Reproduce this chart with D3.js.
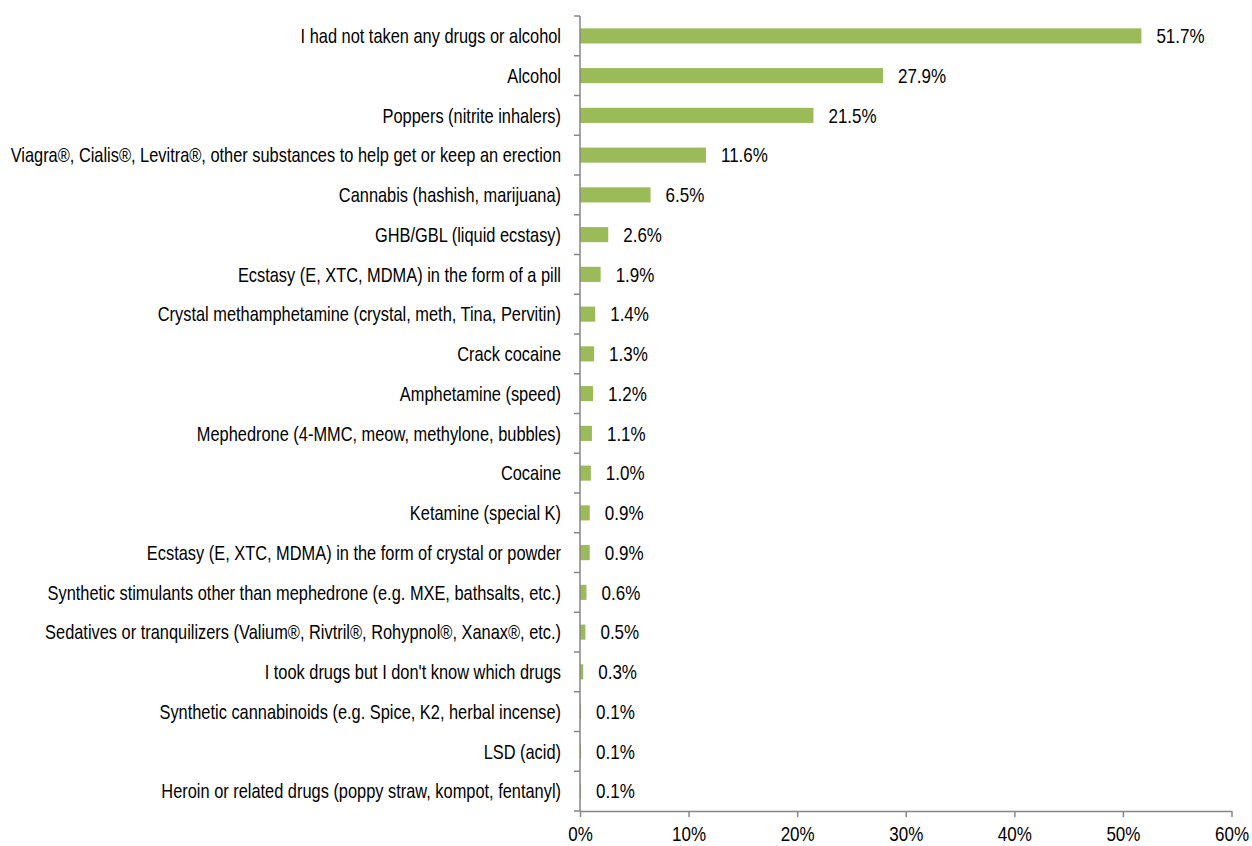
<!DOCTYPE html>
<html>
<head>
<meta charset="utf-8">
<script src="https://cdn.jsdelivr.net/npm/d3@7/dist/d3.min.js"></script>
<style>
  html, body { margin: 0; padding: 0; background: #fff; }
  svg { display: block; font-family: "Liberation Sans", Arial, sans-serif; }
</style>
</head>
<body>
<svg id="chart" width="1252" height="846"></svg>
<script>
// Substances used, share of respondents (%)
const categories = [
  "I had not taken any drugs or alcohol",
  "Alcohol",
  "Poppers (nitrite inhalers)",
  "Viagra®, Cialis®, Levitra®, other substances to help get or keep an erection",
  "Cannabis (hashish, marijuana)",
  "GHB/GBL (liquid ecstasy)",
  "Ecstasy (E, XTC, MDMA) in the form of a pill",
  "Crystal methamphetamine (crystal, meth, Tina, Pervitin)",
  "Crack cocaine",
  "Amphetamine (speed)",
  "Mephedrone (4-MMC, meow, methylone, bubbles)",
  "Cocaine",
  "Ketamine (special K)",
  "Ecstasy (E, XTC, MDMA) in the form of crystal or powder",
  "Synthetic stimulants other than mephedrone (e.g. MXE, bathsalts, etc.)",
  "Sedatives or tranquilizers (Valium®, Rivtril®, Rohypnol®, Xanax®, etc.)",
  "I took drugs but I don't know which drugs",
  "Synthetic cannabinoids (e.g. Spice, K2, herbal incense)",
  "LSD (acid)",
  "Heroin or related drugs (poppy straw, kompot, fentanyl)"
];
const values = [51.7, 27.9, 21.5, 11.6, 6.5, 2.6, 1.9, 1.4, 1.3, 1.2, 1.1, 1.0, 0.9, 0.9, 0.6, 0.5, 0.3, 0.1, 0.1, 0.1];
const xTicks = [0, 10, 20, 30, 40, 50, 60];

const svg = d3.select("#chart");
const fontSize = 20;
const squeeze = 0.82;     // condensed look for labels
const squeezeNum = 0.85;  // numeric labels

const x = d3.scaleLinear().domain([0, 60]).range([580, 1231.5]);
const y = d3.scaleBand().domain(categories).range([16, 811]).paddingInner(0.62).paddingOuter(0.31);

const axisColor = "#868686";

// Bars
svg.append("g").selectAll("rect")
  .data(values)
  .join("rect")
  .attr("x", x(0))
  .attr("y", (d, i) => y(categories[i]))
  .attr("width", d => x(d) - x(0))
  .attr("height", y.bandwidth())
  .attr("fill", "#9bbb59");

// Value labels
svg.append("g").selectAll("text")
  .data(values)
  .join("text")
  .attr("transform", (d, i) => `translate(${x(d) + 15},${y(categories[i]) + y.bandwidth() / 2}) scale(${squeezeNum},1)`)
  .attr("dy", "0.36em")
  .attr("font-size", fontSize)
  .attr("fill", "#000")
  .text(d => d.toFixed(1) + "%");

// Category axis (ticks sit between categories)
const yAxisG = svg.append("g");
yAxisG.append("line")
  .attr("x1", x(0)).attr("x2", x(0))
  .attr("y1", y.range()[0]).attr("y2", y.range()[1])
  .attr("stroke", axisColor).attr("stroke-width", 1.5);
const boundaries = d3.range(categories.length + 1).map(i => y.range()[0] + i * y.step());
yAxisG.selectAll("line.tick")
  .data(boundaries)
  .join("line")
  .attr("class", "tick")
  .attr("x1", x(0) - 6).attr("x2", x(0))
  .attr("y1", d => d).attr("y2", d => d)
  .attr("stroke", axisColor).attr("stroke-width", 1.5);
yAxisG.selectAll("text")
  .data(categories)
  .join("text")
  .attr("transform", d => `translate(${x(0) - 19},${y(d) + y.bandwidth() / 2}) scale(${squeeze},1)`)
  .attr("dy", "0.36em")
  .attr("text-anchor", "end")
  .attr("font-size", fontSize)
  .attr("fill", "#000")
  .text(d => d);

// Value axis
const xAxis = d3.axisBottom(x)
  .tickValues(xTicks)
  .tickFormat(d => d + "%")
  .tickSizeInner(6)
  .tickSizeOuter(0)
  .tickPadding(10);
const xAxisG = svg.append("g")
  .attr("transform", `translate(0,${y.range()[1]})`)
  .call(xAxis)
  .attr("font-family", null);
xAxisG.select(".domain").attr("stroke", axisColor).attr("stroke-width", 1.5);
xAxisG.selectAll(".tick line").attr("stroke", axisColor).attr("stroke-width", 1.5);
xAxisG.selectAll(".tick text")
  .attr("font-size", fontSize)
  .attr("fill", "#000")
  .attr("transform", `scale(${squeezeNum},1)`);
</script>
</body>
</html>
